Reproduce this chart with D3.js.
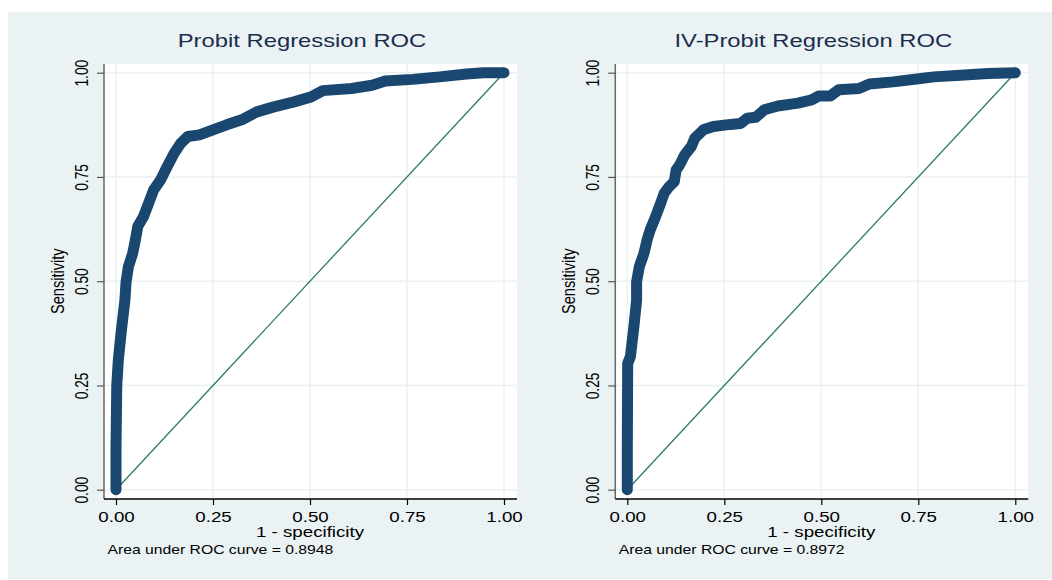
<!DOCTYPE html>
<html>
<head>
<meta charset="utf-8">
<script src="https://cdn.jsdelivr.net/npm/d3@7"></script>
<style>
  body { margin: 0; background: #fff; }
  text { font-family: "Liberation Sans", Arial, Helvetica, sans-serif; }
</style>
</head>
<body>
<script>
// data
var tickValues = [0, 0.25, 0.5, 0.75, 1];
var titles = ["Probit Regression ROC", "IV-Probit Regression ROC"];
var aucValues = ["0.8948", "0.8972"];

var probitFpr = [0, 0.000, 0.002, 0.006, 0.013, 0.023, 0.026, 0.032, 0.043, 0.050, 0.056, 0.071, 0.084, 0.097, 0.115, 0.132, 0.150, 0.167, 0.185, 0.215, 0.250, 0.285, 0.324, 0.363, 0.407, 0.459, 0.503, 0.533, 0.607, 0.660, 0.694, 0.764, 0.834, 0.903, 0.947, 1.0];
var probitTpr = [0, 0.10, 0.25, 0.311, 0.375, 0.455, 0.499, 0.535, 0.567, 0.599, 0.631, 0.655, 0.687, 0.719, 0.743, 0.775, 0.807, 0.831, 0.847, 0.851, 0.863, 0.875, 0.887, 0.906, 0.918, 0.930, 0.942, 0.957, 0.962, 0.970, 0.980, 0.984, 0.990, 0.997, 1.0, 1.0];

var ivFpr = [0, 0.000, 0.001, 0.008, 0.017, 0.024, 0.024, 0.031, 0.043, 0.051, 0.059, 0.073, 0.086, 0.095, 0.108, 0.121, 0.126, 0.135, 0.148, 0.165, 0.174, 0.196, 0.222, 0.266, 0.292, 0.309, 0.331, 0.353, 0.388, 0.440, 0.475, 0.493, 0.523, 0.545, 0.597, 0.624, 0.685, 0.746, 0.790, 0.859, 0.929, 1.0];
var ivTpr = [0, 0.10, 0.303, 0.319, 0.391, 0.455, 0.499, 0.535, 0.567, 0.599, 0.623, 0.655, 0.687, 0.711, 0.727, 0.739, 0.767, 0.779, 0.803, 0.823, 0.843, 0.863, 0.871, 0.876, 0.878, 0.891, 0.893, 0.911, 0.920, 0.927, 0.935, 0.944, 0.944, 0.959, 0.962, 0.973, 0.978, 0.985, 0.990, 0.994, 0.998, 1.0];

var width = 1052, height = 580;
var stretch = 1.3; // the picture is wider than tall, text is stretched too
var bg = "#eaf2f3", navy = "#1a476f", diagColor = "#2f7a66";

var svg = d3.select("body").append("svg")
    .attr("width", width)
    .attr("height", height);

svg.append("rect")
    .attr("x", 8).attr("y", 12)
    .attr("width", width - 8).attr("height", 567)
    .attr("fill", bg);

function drawPanel(axisX, title, auc, fpr, tpr) {
    var top = 64, bottom = 499, right = axisX + 413;
    var x = d3.scaleLinear().domain([0, 1]).range([axisX + 12, axisX + 400]);
    var y = d3.scaleLinear().domain([0, 1]).range([489.7, 72.7]);
    var g = svg.append("g");

    g.append("rect")
        .attr("x", axisX).attr("y", top)
        .attr("width", right - axisX).attr("height", bottom - top)
        .attr("fill", "#fff");

    // grid
    g.selectAll(".vgrid").data(tickValues).enter().append("line")
        .attr("x1", d => x(d)).attr("x2", d => x(d))
        .attr("y1", top).attr("y2", bottom)
        .attr("stroke", bg).attr("stroke-width", 1.5);
    g.selectAll(".hgrid").data(tickValues).enter().append("line")
        .attr("x1", axisX).attr("x2", right)
        .attr("y1", d => y(d)).attr("y2", d => y(d))
        .attr("stroke", bg).attr("stroke-width", 1.5);

    // y axis
    var ya = g.append("g")
        .attr("transform", "translate(" + axisX + ",0)")
        .call(d3.axisLeft(y).tickValues(tickValues).tickSize(7).tickSizeOuter(0).tickFormat(d3.format(".2f")));
    ya.select(".domain").attr("d", "M0," + top + "V" + bottom).attr("stroke", "#666").attr("stroke-width", 1.5);
    ya.selectAll(".tick line").attr("stroke", "#555").attr("stroke-width", 1.2);
    ya.selectAll(".tick text")
        .attr("x", null).attr("dy", null)
        .attr("transform", "translate(-16,0) scale(" + stretch + ",1) rotate(-90)")
        .attr("text-anchor", "middle")
        .attr("font-size", 13.8)
        .attr("fill", "#000")
        .style("font-family", "'Liberation Sans', Arial, sans-serif");

    // x axis
    var xa = g.append("g")
        .attr("transform", "translate(0," + bottom + ")")
        .call(d3.axisBottom(x).tickValues(tickValues).tickSize(6).tickSizeOuter(0).tickFormat(d3.format(".2f")));
    xa.select(".domain").attr("d", "M" + axisX + ",0H" + right).attr("stroke", "#000").attr("stroke-width", 1.3);
    xa.selectAll(".tick line").attr("stroke", "#000").attr("stroke-width", 1.2);
    xa.selectAll(".tick text")
        .attr("y", null).attr("dy", null)
        .attr("transform", "translate(0,22.7) scale(" + stretch + ",1)")
        .attr("text-anchor", "middle")
        .attr("font-size", 14.4)
        .attr("fill", "#000")
        .style("font-family", "'Liberation Sans', Arial, sans-serif");

    // reference diagonal
    g.append("line")
        .attr("x1", x(0)).attr("y1", y(0))
        .attr("x2", x(1)).attr("y2", y(1))
        .attr("stroke", diagColor).attr("stroke-width", 1.3);

    // roc curve
    var pts = fpr.map((d, i) => [d, tpr[i]]);
    var line = d3.line().x(d => x(d[0])).y(d => y(d[1]));
    g.append("path")
        .attr("d", line(pts))
        .attr("fill", "none")
        .attr("stroke", navy)
        .attr("stroke-width", 11)
        .attr("stroke-linejoin", "round")
        .attr("stroke-linecap", "round");

    // texts
    var cx = (axisX + right) / 2;
    g.append("text")
        .attr("transform", "translate(" + (x(0.5) - 8) + ",46.5) scale(" + stretch + ",1)")
        .attr("text-anchor", "middle")
        .attr("font-size", 18.3)
        .attr("fill", "#1a2d4d")
        .text(title);

    g.append("text")
        .attr("transform", "translate(" + x(0.5) + ",536.7) scale(" + stretch + ",1)")
        .attr("text-anchor", "middle")
        .attr("font-size", 14.4)
        .attr("fill", "#000")
        .text("1 - specificity");

    g.append("text")
        .attr("transform", "translate(" + (axisX - 40.3) + "," + y(0.5) + ") scale(" + stretch + ",1) rotate(-90)")
        .attr("text-anchor", "middle")
        .attr("font-size", 14.6)
        .attr("fill", "#000")
        .text("Sensitivity");

    g.append("text")
        .attr("transform", "translate(" + (axisX + 3.5) + ",554) scale(" + stretch + ",1)")
        .attr("font-size", 12.1)
        .attr("fill", "#000")
        .text("Area under ROC curve = " + auc);
}

drawPanel(104, titles[0], aucValues[0], probitFpr, probitTpr);
drawPanel(615.3, titles[1], aucValues[1], ivFpr, ivTpr);
</script>
</body>
</html>
